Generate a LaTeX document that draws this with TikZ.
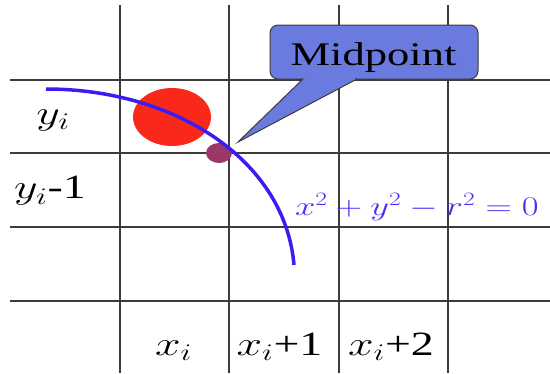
\RequirePackage{fix-cm}
\documentclass[tikz,border=0pt]{standalone}
\usepackage{fontspec}
\setmainfont{Liberation Serif}
\usepackage{graphicx}
\usetikzlibrary{calc, positioning}

\definecolor{gridgray}{RGB}{60,60,60}
\definecolor{arcblue}{RGB}{58,30,240}
\definecolor{eqblue}{RGB}{75,45,245}
\definecolor{pixred}{RGB}{250,40,25}
\definecolor{midpurple}{RGB}{155,55,105}
\definecolor{calloutblue}{RGB}{106,122,222}

\newcommand{\widen}[1]{\scalebox{1.35}[1]{#1}}

\tikzset{
  gridline/.style={line width=1.5pt, gridgray},
  axislabel/.style={inner sep=0pt, font=\fontsize{34}{40}\selectfont},
  calloutbox/.style={draw=gridgray, fill=calloutblue, line width=1pt,
    rounded corners=8pt, inner sep=0pt, outer sep=0pt,
    minimum width=208pt, minimum height=54pt},
}

\begin{document}
\begin{tikzpicture}[x=1pt,y=-1pt]
\useasboundingbox (0,0) rectangle (550,373);
\coordinate (arcstart) at (46,89);
\coordinate (arcend) at (294,265);
\coordinate (ptip) at (238,142);

% Pixel grid
\foreach \gx in {120,229,339,448}
  \draw[gridline] (\gx,5) -- (\gx,373);
\foreach \gy in {80,153,227,301}
  \draw[gridline] (10,\gy) -- (550,\gy);

% Chosen pixel and the midpoint
\fill[pixred] (172,117) ellipse [x radius=39, y radius=29];
\fill[midpurple] (219,153) ellipse [x radius=13, y radius=10];

% Circle arc
\draw[arcblue, line width=3.5pt] (arcstart)
    .. controls (175,89) and (285,160) .. (arcend);

% Callout
\node[calloutbox] (midbox) at (374,52) {};
\fill[calloutblue] ($(midbox.south west)+(33,0)$) -- (ptip)
    -- ($(midbox.south west)+(87,0)$) -- cycle;
\draw[gridgray, line width=1pt] ($(midbox.south west)+(33,0)$) -- (ptip)
    -- ($(midbox.south west)+(87,0)$);
\fill[calloutblue] ($(midbox.south west)+(34.5,-1.2)$)
    rectangle ($(midbox.south west)+(84.5,1.2)$);
\node[anchor=base, inner sep=0pt, font=\fontsize{33}{38}\selectfont]
    (midtext) at (373.5,65) {\widen{Midpoint}};

% Row and column labels
\node[axislabel] (rowi) at (53,120) {\widen{$y_i$}};
\node[axislabel] (rowim) at (50,191) {\widen{$y_i$-1}};
\node[axislabel, anchor=base] (coli) at (173.5,355) {\widen{$x_i$}};
\node[axislabel, anchor=base] (colip) at (279.5,355) {\widen{$x_i$+1}};
\node[axislabel, anchor=base] (colipp) at (391,355) {\widen{$x_i$+2}};

% Equation of the circle
\node[anchor=base west, inner sep=0pt, text=eqblue,
    font=\fontsize{27}{32}\selectfont] (circeq) at (295,215)
    {\widen{$x^2+y^2-r^2=0$}};
\end{tikzpicture}
\end{document}
